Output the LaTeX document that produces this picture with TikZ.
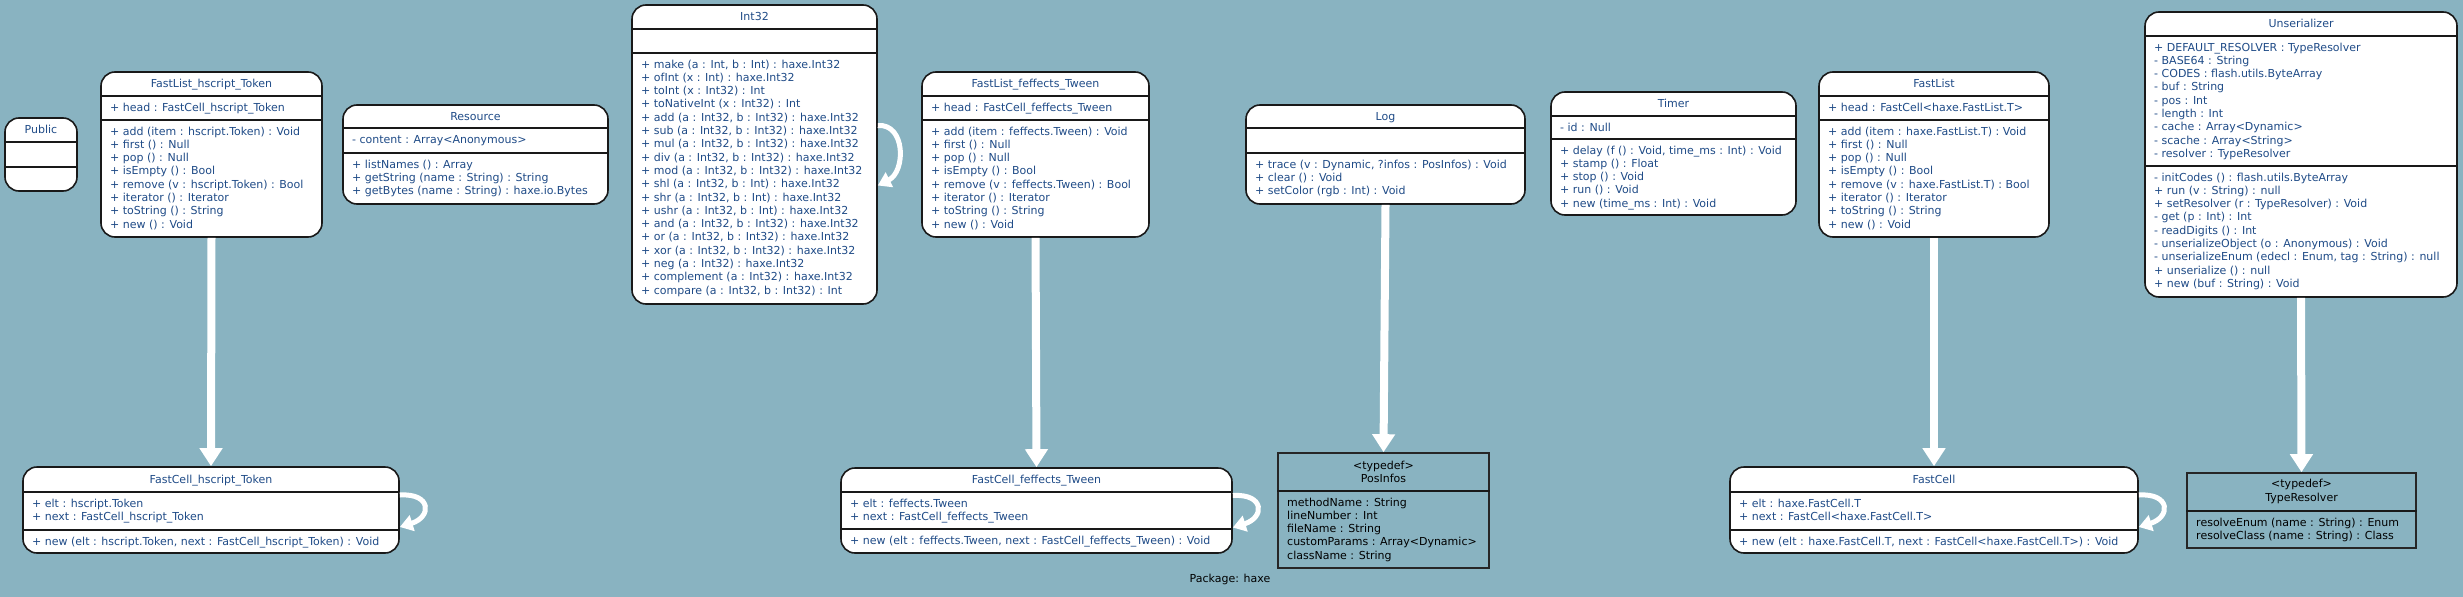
\documentclass[tikz,border=0pt]{standalone}
\usepackage{fontspec}
\setmainfont{DejaVu Sans}
\usepackage{tikz}
\usetikzlibrary{fit}
\usetikzlibrary{arrows.meta}
\definecolor{bg}{HTML}{89B3C1}
\definecolor{ink}{HTML}{1F4B87}
\tikzset{
    box/.style={draw=black!90, line width=1.6pt, fill=white, rounded corners=14pt, inner sep=0pt},
    tdbox/.style={draw=black!85, line width=1.6pt, inner sep=0pt},
    splitline/.style={draw=black!90, line width=1.6pt},
    txt/.style={font=\fontsize{11}{13.3}\selectfont, inner sep=0pt, outer sep=0pt},
    headtext/.style={txt, text=ink, text height=8pt, text depth=0pt},
    members/.style={txt, text=ink, align=left, anchor=north west},
    tdhead/.style={txt, text=black, align=center},
    tdmembers/.style={txt, text=black, align=left, anchor=north west},
    link/.style={white, line width=8pt, -{Triangle[width=22pt,length=18pt]}},
    selfref/.style={white, line width=5pt, -{Triangle[width=16pt,length=13pt]}}
}
\newcommand{\umlclass}[8] {
	\node[box, fit={#2 #3}] (#1) {};
	\coordinate (#1-s1) at (0,#4);
	\coordinate (#1-s2) at (0,#5);
	\draw[splitline] (#1.west |- #1-s1) -- (#1.east |- #1-s1);
	\draw[splitline] (#1.west |- #1-s2) -- (#1.east |- #1-s2);
	\path (#1.north) -- (#1.north |- #1-s1) node[midway, headtext] (#1-head) {#6};
	\node[members] (#1-attr) at ([xshift=10pt]#1.west |- #1-s1) {\rule{0pt}{15pt}#7};
	\node[members] (#1-ops) at ([xshift=10pt]#1.west |- #1-s2) {\rule{0pt}{15pt}#8};
}
\newcommand{\umltypedef}[6] {
	\node[tdbox, fit={#2 #3}] (#1) {};
	\coordinate (#1-s1) at (0,#4);
	\draw[splitline] (#1.west |- #1-s1) -- (#1.east |- #1-s1);
	\path (#1.north) -- (#1.north |- #1-s1) node[midway, tdhead] (#1-head) {#5};
	\node[tdmembers] (#1-attr) at ([xshift=10pt]#1.west |- #1-s1) {\rule{0pt}{15pt}#6};
}

\begin{document}
\begin{tikzpicture}[x=1pt, y=-1pt]
		\fill[bg] (0,0) rectangle (2463,597);
		\useasboundingbox (0,0) rectangle (2463,597);

		% Top row
		\umlclass{public}{(5,118)}{(77,191)}{142}{167}{Public}{}{}
		\umlclass{listtoken}{(101,72)}{(322,237)}{96}{120}{FastList\_hscript\_Token}
			{+ head : FastCell\_hscript\_Token}
			{+ add (item : hscript.Token) : Void\\+ first () : Null\\+ pop () : Null\\+ isEmpty () : Bool\\+ remove (v : hscript.Token) : Bool\\+ iterator () : Iterator\\+ toString () : String\\+ new () : Void}
		\umlclass{resource}{(343,105)}{(608,204)}{128}{153}{Resource}
			{- content : Array<Anonymous>}
			{+ listNames () : Array\\+ getString (name : String) : String\\+ getBytes (name : String) : haxe.io.Bytes}
		\umlclass{int32}{(632,5)}{(877,304)}{29}{53}{Int32}{}
			{+ make (a : Int, b : Int) : haxe.Int32\\+ ofInt (x : Int) : haxe.Int32\\+ toInt (x : Int32) : Int\\+ toNativeInt (x : Int32) : Int\\+ add (a : Int32, b : Int32) : haxe.Int32\\+ sub (a : Int32, b : Int32) : haxe.Int32\\+ mul (a : Int32, b : Int32) : haxe.Int32\\+ div (a : Int32, b : Int32) : haxe.Int32\\+ mod (a : Int32, b : Int32) : haxe.Int32\\+ shl (a : Int32, b : Int) : haxe.Int32\\+ shr (a : Int32, b : Int) : haxe.Int32\\+ ushr (a : Int32, b : Int) : haxe.Int32\\+ and (a : Int32, b : Int32) : haxe.Int32\\+ or (a : Int32, b : Int32) : haxe.Int32\\+ xor (a : Int32, b : Int32) : haxe.Int32\\+ neg (a : Int32) : haxe.Int32\\+ complement (a : Int32) : haxe.Int32\\+ compare (a : Int32, b : Int32) : Int}
		\umlclass{listtween}{(922,72)}{(1149,237)}{96}{120}{FastList\_feffects\_Tween}
			{+ head : FastCell\_feffects\_Tween}
			{+ add (item : feffects.Tween) : Void\\+ first () : Null\\+ pop () : Null\\+ isEmpty () : Bool\\+ remove (v : feffects.Tween) : Bool\\+ iterator () : Iterator\\+ toString () : String\\+ new () : Void}
		\umlclass{log}{(1246,105)}{(1525,204)}{128}{153}{Log}{}
			{+ trace (v : Dynamic, ?infos : PosInfos) : Void\\+ clear () : Void\\+ setColor (rgb : Int) : Void}
		\umlclass{timer}{(1551,92)}{(1796,215)}{116}{139}{Timer}
			{- id : Null}
			{+ delay (f () : Void, time\_ms : Int) : Void\\+ stamp () : Float\\+ stop () : Void\\+ run () : Void\\+ new (time\_ms : Int) : Void}
		\umlclass{fastlist}{(1819,72)}{(2049,237)}{96}{120}{FastList}
			{+ head : FastCell<haxe.FastList.T>}
			{+ add (item : haxe.FastList.T) : Void\\+ first () : Null\\+ pop () : Null\\+ isEmpty () : Bool\\+ remove (v : haxe.FastList.T) : Bool\\+ iterator () : Iterator\\+ toString () : String\\+ new () : Void}
		\umlclass{unser}{(2145,12)}{(2457,297)}{36}{166}{Unserializer}
			{+ DEFAULT\_RESOLVER : TypeResolver\\- BASE64 : String\\- CODES : flash.utils.ByteArray\\- buf : String\\- pos : Int\\- length : Int\\- cache : Array<Dynamic>\\- scache : Array<String>\\- resolver : TypeResolver}
			{- initCodes () : flash.utils.ByteArray\\+ run (v : String) : null\\+ setResolver (r : TypeResolver) : Void\\- get (p : Int) : Int\\- readDigits () : Int\\- unserializeObject (o : Anonymous) : Void\\- unserializeEnum (edecl : Enum, tag : String) : null\\+ unserialize () : null\\+ new (buf : String) : Void}

		% Bottom row
		\umlclass{celltoken}{(23,467)}{(399,553)}{492}{530}{FastCell\_hscript\_Token}
			{+ elt : hscript.Token\\+ next : FastCell\_hscript\_Token}
			{+ new (elt : hscript.Token, next : FastCell\_hscript\_Token) : Void}
		\umlclass{celltween}{(841,468)}{(1232,553)}{492}{529}{FastCell\_feffects\_Tween}
			{+ elt : feffects.Tween\\+ next : FastCell\_feffects\_Tween}
			{+ new (elt : feffects.Tween, next : FastCell\_feffects\_Tween) : Void}
		\umltypedef{posinfos}{(1278,453)}{(1489,568)}{491}{<typedef>\\PosInfos}
			{methodName : String\\lineNumber : Int\\fileName : String\\customParams : Array<Dynamic>\\className : String}
		\umlclass{fastcell}{(1730,467)}{(2138,553)}{492}{530}{FastCell}
			{+ elt : haxe.FastCell.T\\+ next : FastCell<haxe.FastCell.T>}
			{+ new (elt : haxe.FastCell.T, next : FastCell<haxe.FastCell.T>) : Void}
		\umltypedef{typeres}{(2187,473)}{(2416,548)}{511}{<typedef>\\TypeResolver}
			{resolveEnum (name : String) : Enum\\resolveClass (name : String) : Class}

		% Links
		\draw[link] (listtoken.south) -- (celltoken.north);
		\draw[link] (listtween.south) -- (celltween.north);
		\draw[link] (log.south) -- (posinfos.north);
		\draw[link] (fastlist.south) -- (fastcell.north);
		\draw[link] (unser.south) -- (typeres.north);

		% Self references
		\draw[selfref] ([yshift=29pt]int32.east) .. controls +(28pt,2pt) and +(28pt,14pt) .. ([yshift=-31pt]int32.east);
		\draw[selfref] ([yshift=15pt]celltoken.east) .. controls +(32pt,2pt) and +(32pt,10pt) .. ([yshift=-17pt]celltoken.east);
		\draw[selfref] ([yshift=15pt]celltween.east) .. controls +(32pt,2pt) and +(32pt,10pt) .. ([yshift=-17pt]celltween.east);
		\draw[selfref] ([yshift=15pt]fastcell.east) .. controls +(32pt,2pt) and +(32pt,10pt) .. ([yshift=-17pt]fastcell.east);

		\node[txt, text=black] (pkg) at (1230,579) {Package: haxe};

	\end{tikzpicture}
\end{document}
